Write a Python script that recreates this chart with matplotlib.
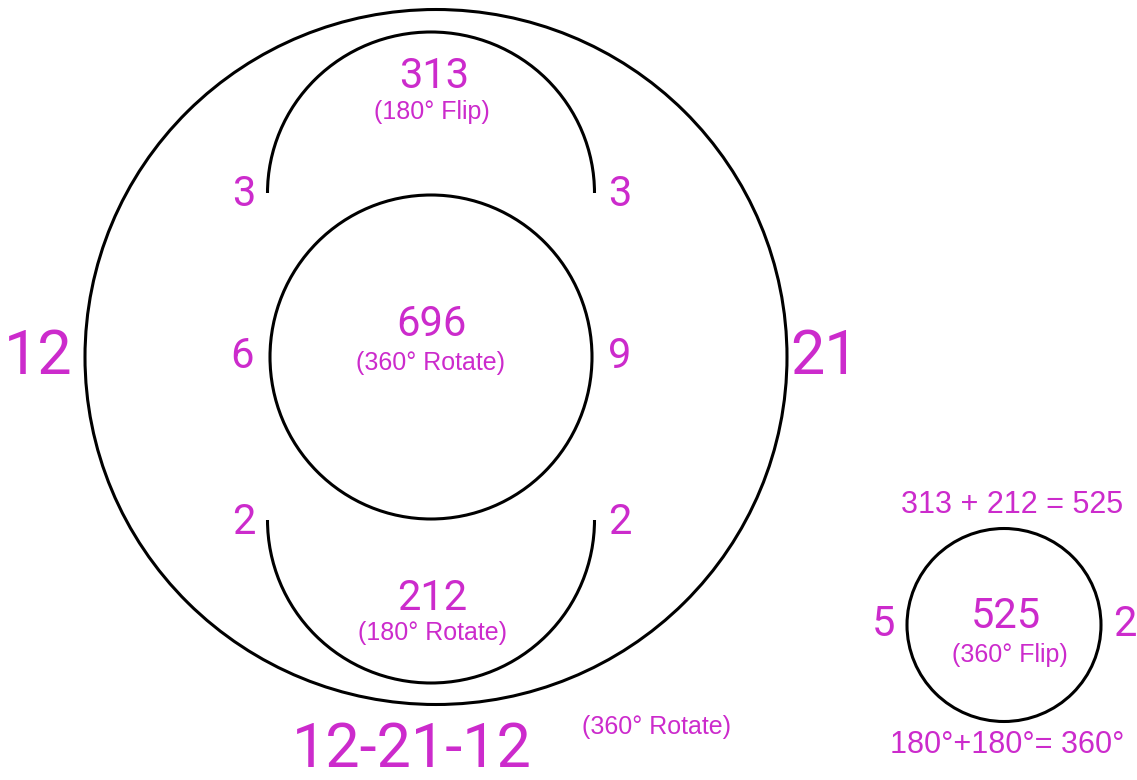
import matplotlib
matplotlib.use("Agg")
import matplotlib.pyplot as plt
from matplotlib.patches import Ellipse, Arc

MAGENTA = "#cc2bcc"

# circles: (cx, cy, width, height) in pixel coordinates of the picture
circles = [(436, 357, 702, 695), (431, 357, 322, 324), (1004, 625, 194, 193)]
# half arcs: (cx, cy, width, height, theta1, theta2)
arcs = [(431, 193, 327, 322, 0, 180), (431, 520, 327, 326, 180, 360)]

# seven-segment style numbers: text, x, y, size
seg_text = ["313", "3", "3", "696", "6", "9", "2", "2", "212", "525", "5", "2",
            "12", "21", "12-21-12"]
seg_x = [434, 244, 620, 431, 242, 620, 244, 620, 432, 1006, 884, 1125, 38, 825, 412]
seg_y = [77, 195, 195, 325, 357, 357, 522, 522, 598, 616, 625, 625, 357, 357, 750]
seg_size = [30, 30, 30, 30, 30, 30, 30, 30, 30, 30, 30, 30, 44, 44, 44]

# plain captions
cap_text = ["(180° Flip)", "(360° Rotate)", "(180° Rotate)", "(360° Rotate)",
            "(360° Flip)", "313 + 212 = 525", "180°+180°= 360°"]
cap_x = [432, 431, 432, 656, 1010, 1012, 1007]
cap_y = [112, 363, 633, 727, 655, 505, 745]
cap_size = [18, 18, 18, 18, 18, 22, 22]

fig = plt.figure(figsize=(11.37, 7.8), dpi=100)
ax = fig.add_axes([0, 0, 1, 1])
ax.set_xlim(0, 1137)
ax.set_ylim(780, 0)
ax.axis("off")

for cx, cy, w, h in circles:
    ax.add_patch(Ellipse((cx, cy), w, h, fill=False, color="black", lw=2.2))
for cx, cy, w, h, t1, t2 in arcs:
    # y axis is inverted, so the angles are mirrored
    ax.add_patch(Arc((cx, cy), w, h, theta1=360 - t2, theta2=360 - t1, color="black", lw=2.2))

for t, x, y, s in zip(seg_text, seg_x, seg_y, seg_size):
    ax.text(x, y, t, color=MAGENTA, fontsize=s, family="Roboto",
            ha="center", va="center")

for t, x, y, s in zip(cap_text, cap_x, cap_y, cap_size):
    ax.text(x, y, t, color=MAGENTA, fontsize=s, family="Liberation Sans",
            ha="center", va="center")

fig.savefig("out.png", dpi=100, facecolor="white")
